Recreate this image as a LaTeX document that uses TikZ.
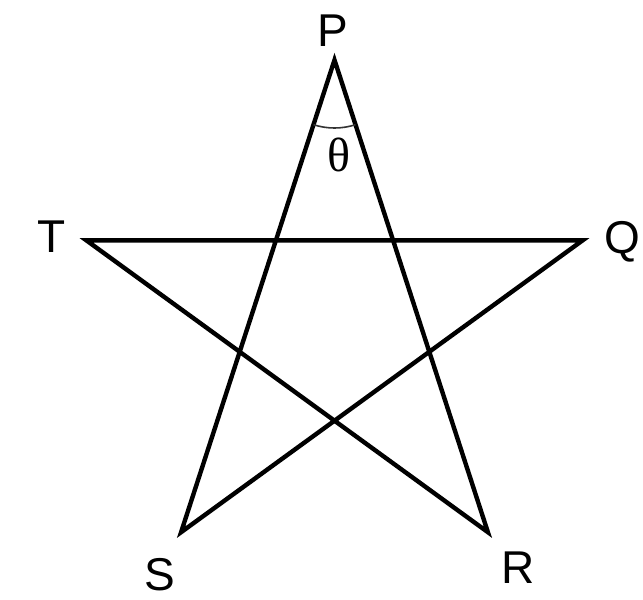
\documentclass[tikz,border=0pt]{standalone}
\usepackage{fontspec}
\setmainfont{Liberation Sans}
\newfontfamily\thetafont{Liberation Serif}
\begin{document}
\begin{tikzpicture}[x=1pt,y=-1pt,
  starline/.style={line width=4.4pt,line join=miter,black},
  anglearc/.style={line width=1.6pt,black!80},
  vlabel/.style={inner sep=0pt,font=\fontsize{46}{50}\selectfont}]
\useasboundingbox (0,0) rectangle (643,600);
\coordinate (P) at (334.5,60);
\coordinate (T) at (86.3,240.3);
\coordinate (Q) at (582.7,240.3);
\coordinate (S) at (181.1,532.2);
\coordinate (R) at (487.9,532.2);
\draw[starline] (P) -- (R) -- (T) -- (Q) -- (S) -- cycle;
\draw[anglearc] (P) ++(72:68) arc[start angle=72,end angle=108,radius=68];
\node[vlabel] (lP) at (333,31) {P};
\node[vlabel] (lT) at (52,237) {T};
\node[vlabel] (lQ) at (622,242) {Q};
\node[vlabel] (lS) at (160,575) {S};
\node[vlabel] (lR) at (518,568) {R};
\node[inner sep=0pt,font=\thetafont\fontsize{48}{52}\selectfont] (theta) at (339,155) {θ};
\end{tikzpicture}
\end{document}
